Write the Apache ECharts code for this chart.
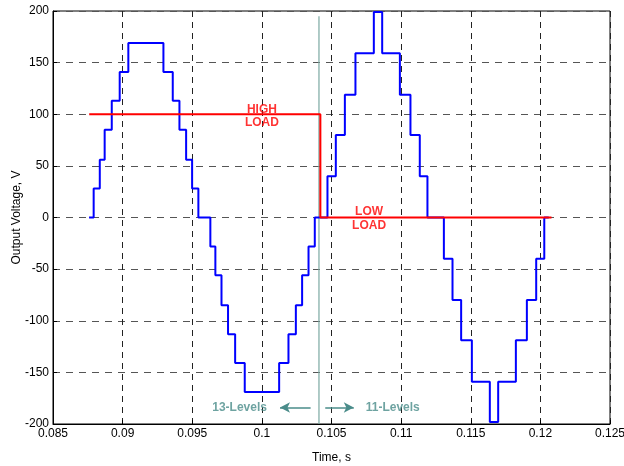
<!DOCTYPE html>
<html><head><meta charset="utf-8">
<script src="https://cdn.jsdelivr.net/npm/echarts@6/dist/echarts.min.js"></script>
<style>html,body{margin:0;padding:0;background:#fff}#c{width:624px;height:466px}</style>
</head><body><div id="c"></div>
<script>
// Blue staircase: transition instants (s) and the level (V) held from each instant
const stepTimes = [0.08759, 0.08792, 0.08836, 0.08871, 0.08922, 0.08979, 0.09041, 0.09293, 0.0936, 0.09408, 0.09456, 0.09499, 0.09544,
  0.0963, 0.09666, 0.0971, 0.09757, 0.09808, 0.09877, 0.10124, 0.10191, 0.10244, 0.10289, 0.10335, 0.1038,
  0.10471, 0.10531, 0.10596, 0.10672, 0.10804, 0.10864, 0.10991, 0.11067, 0.11134, 0.11189,
  0.11307, 0.11369, 0.11431, 0.11508, 0.11637, 0.11697, 0.11824, 0.11903, 0.1197, 0.12028, 0.1206];
const stepLevels = [0, 28, 56, 85, 113, 141, 169, 141, 113, 85, 56, 28, 0,
  -28, -56, -85, -113, -141, -169, -141, -113, -85, -56, -28, 0,
  40, 80, 119, 159, 199, 159, 119, 80, 40, 0,
  -40, -80, -119, -159, -198, -159, -119, -80, -40, 0, 0];
// Red load reference
const redTimes = [0.0876, 0.1042, 0.1042, 0.1208];
const redValues = [100, 100, 0, 0];
// Switch-over marker
const markerTimes = [0.1041, 0.1041];
const markerValues = [-200, 195];
// Annotations
const loadNotes = ['HIGH\nLOAD', 'LOW\nLOAD'];
const loadNoteX = [0.1, 0.1077];
const loadNoteY = [98, -1];
const levelNotes = ['13-Levels', '11-Levels'];
const levelNoteX = [0.0984, 0.1094];
const levelNoteY = [-184, -184];
const arrowFrom = [0.1035, 0.10455];
const arrowTo = [0.1013, 0.1066];
const arrowY = -184;
// Axes
const xMin = 0.085, xMax = 0.125, xStep = 0.005;
const yMin = -200, yMax = 200, yStep = 50;

const FONT = 'Liberation Sans, Arial, sans-serif';
const TEAL = '#4a8c8a';
const chart = echarts.init(document.getElementById('c'));
chart.setOption({
  animation: false,
  grid: { left: 53, right: 14, top: 11, bottom: 42, outerBoundsMode: 'none', containLabel: false,
    show: true, borderColor: '#000', borderWidth: 1 },
  xAxis: {
    type: 'value', min: xMin, max: xMax, interval: xStep,
    name: 'Time, s', nameLocation: 'middle', nameGap: 28, nameMoveOverlap: false,
    nameTextStyle: { fontFamily: FONT, fontSize: 12, color: '#000' },
    axisLine: { show: true, onZero: false, lineStyle: { color: '#000', width: 1 } },
    axisTick: { show: true, inside: true, length: 4, lineStyle: { color: '#000' } },
    axisLabel: { fontFamily: FONT, fontSize: 12, color: '#000', margin: 4,
      formatter: v => String(+v.toFixed(3)) },
    splitLine: { show: true, lineStyle: { color: '#222', type: [6, 5], width: 1 } }
  },
  yAxis: {
    type: 'value', min: yMin, max: yMax, interval: yStep,
    name: 'Output Voltage, V', nameLocation: 'middle', nameGap: 30, nameRotate: 90, nameMoveOverlap: false,
    nameTextStyle: { fontFamily: FONT, fontSize: 12, color: '#000' },
    axisLine: { show: true, onZero: false, lineStyle: { color: '#000', width: 1 } },
    axisTick: { show: true, inside: true, length: 4, lineStyle: { color: '#000' } },
    axisLabel: { fontFamily: FONT, fontSize: 12, color: '#000', margin: 4 },
    splitLine: { show: true, lineStyle: { color: '#555', type: [7, 6], width: 1 } }
  },
  series: [
    {
      type: 'line', name: 'marker', silent: true, symbol: 'none',
      data: markerTimes.map((t, i) => [t, markerValues[i]]),
      lineStyle: { color: '#7aa8a2', width: 1.2 },
      markLine: {
        silent: true, symbol: ['none', 'arrow'], symbolSize: [8, 10],
        label: { show: false },
        lineStyle: { color: TEAL, width: 1.5, type: 'solid' },
        data: arrowFrom.map((f, i) => [{ coord: [f, arrowY] }, { coord: [arrowTo[i], arrowY] }])
      },
      z: 2
    },
    {
      type: 'line', name: 'output', step: 'end', symbol: 'none', silent: true,
      data: stepTimes.map((t, i) => [t, stepLevels[i]]),
      lineStyle: { color: '#0000ff', width: 2 },
      z: 3
    },
    {
      type: 'line', name: 'load', symbol: 'none', silent: true,
      data: redTimes.map((t, i) => [t, redValues[i]]),
      lineStyle: { color: '#ff0000', width: 2 },
      z: 4
    },
    {
      type: 'scatter', silent: true, symbolSize: 0,
      data: loadNotes.map((n, i) => ({ name: n, value: [loadNoteX[i], loadNoteY[i]] })),
      label: { show: true, position: 'inside', formatter: '{b}', color: '#ff0000',
        fontFamily: FONT, fontWeight: 'bold', fontSize: 12, lineHeight: 13.5, align: 'center' },
      z: 5
    },
    {
      type: 'scatter', silent: true, symbolSize: 0,
      data: levelNotes.map((n, i) => ({ name: n, value: [levelNoteX[i], levelNoteY[i]] })),
      label: { show: true, position: 'inside', formatter: '{b}', color: TEAL,
        fontFamily: FONT, fontWeight: 'bold', fontSize: 12 },
      z: 5
    }
  ]
});
</script></body></html>
